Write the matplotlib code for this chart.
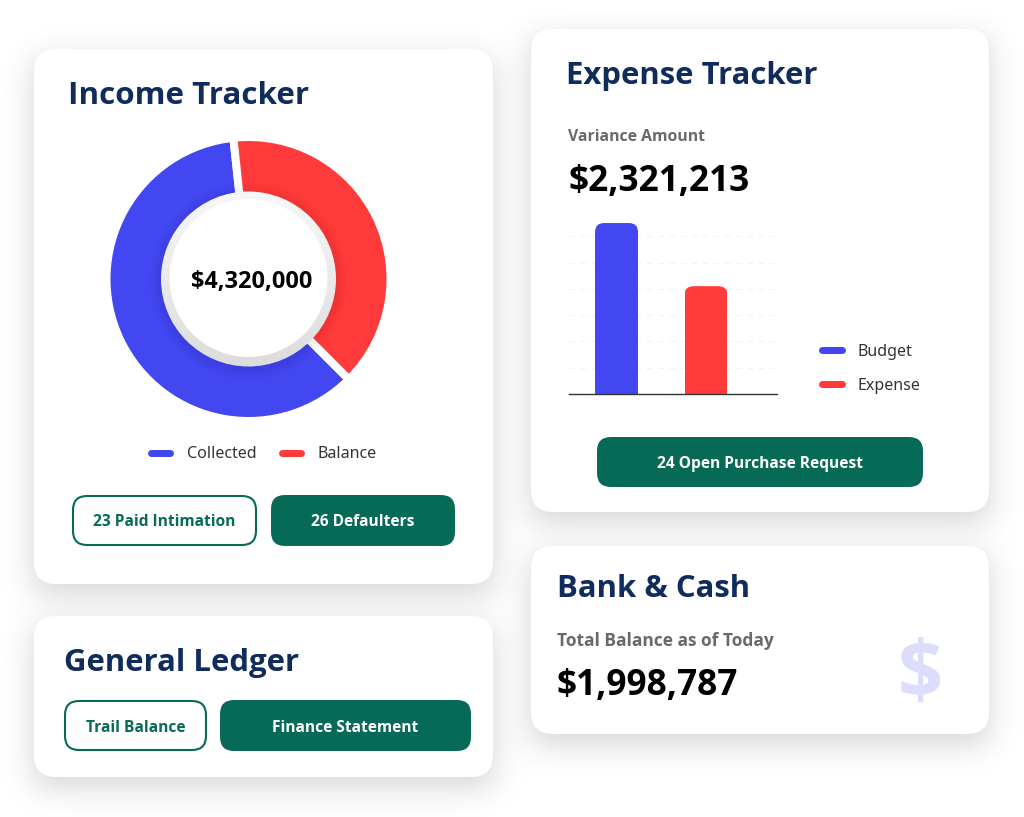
# -*- coding: utf-8 -*-
"""Finance dashboard cards: income donut, expense bars, ledger and bank cards"""

import matplotlib
matplotlib.use('Agg')
import matplotlib.pyplot as plt
from matplotlib.patches import FancyBboxPatch, Circle
import numpy as np

plt.rcParams['font.family'] = ['Noto Sans', 'DejaVu Sans']
BOLD_FONT = ['Open Sans', 'DejaVu Sans']

W, H = 1024, 817

BLUE = '#4347F1'
RED = '#FF3A3A'
GREEN = '#076A56'
NAVY = '#0F2C5C'
GREY = '#6B6868'
LABEL = '#333333'

income_labels = ['Collected', 'Balance']
income_shares = [60.8, 39.2]
income_total = '$4,320,000'

expense_labels = ['Budget', 'Expense']
expense_values = [65, 41]
expense_grid = [10, 20, 30, 40, 50, 60]
variance_amount = '$2,321,213'
bank_balance = '$1,998,787'

CARDS = [(34, 49, 493, 584), (531, 29, 989, 512), (34, 616, 493, 777), (531, 546, 989, 734)]


def px(size):
    return size * 72 / 100


def Y(y):
    return H - y


def draw_shadows(ax, sigma=16, offset=10, strength=0.17):
    half = int(3 * sigma)
    kernel = np.exp(-0.5 * (np.arange(-half, half + 1) / sigma) ** 2)
    kernel /= kernel.sum()
    alpha = np.zeros((H, W))
    for x0, y0, x1, y1 in CARDS:
        col = np.zeros(W)
        col[x0:x1] = 1
        row = np.zeros(H)
        row[y0 + offset:y1 + offset] = 1
        col = np.convolve(col, kernel, mode='same')
        row = np.convolve(row, kernel, mode='same')
        alpha += strength * np.outer(row, col)
    rgba = np.zeros((H, W, 4))
    rgba[..., 3] = np.clip(alpha, 0, 1)
    ax.imshow(rgba, extent=(0, W, 0, H), origin='upper', aspect='auto', zorder=0)


def draw_card(ax, x0, y0, x1, y1, radius=22):
    card = FancyBboxPatch((x0 + radius, Y(y1) + radius), x1 - x0 - 2 * radius, y1 - y0 - 2 * radius,
                          boxstyle=f'round,pad={radius},rounding_size={radius}',
                          facecolor='white', edgecolor='none', zorder=1)
    ax.add_patch(card)


def draw_button(ax, x0, y0, x1, y1, text, filled=True, radius=14):
    box = FancyBboxPatch((x0 + radius, Y(y1) + radius), x1 - x0 - 2 * radius, y1 - y0 - 2 * radius,
                         boxstyle=f'round,pad={radius},rounding_size={radius}',
                         facecolor=GREEN if filled else 'white',
                         edgecolor='none' if filled else GREEN,
                         linewidth=1.5, zorder=2)
    ax.add_patch(box)
    ax.text((x0 + x1) / 2, Y((y0 + y1) / 2), text, ha='center', va='center_baseline', zorder=3,
            fontsize=px(15.5), weight='bold', family=BOLD_FONT,
            color='white' if filled else GREEN)


def draw_text(ax, x, y, text, size, color='black', weight='bold'):
    ax.text(x, Y(y), text, ha='left', va='baseline', fontsize=px(size), color=color,
            weight=weight, family=BOLD_FONT, zorder=3)


def draw_label(ax, x, y, text):
    ax.text(x, Y(y), text, fontsize=px(16), color=LABEL, va='baseline', zorder=3)


def draw_pill(ax, x0, x1, y, color):
    ax.plot([x0 + 3, x1 - 3], [Y(y), Y(y)], color=color, lw=px(7), solid_capstyle='round', zorder=3)


fig = plt.figure(figsize=(W / 100, H / 100), dpi=100, facecolor='white')
bg = fig.add_axes([0, 0, 1, 1], zorder=0)
draw_shadows(bg)
for c in CARDS:
    draw_card(bg, *c)

# Income Tracker
draw_text(bg, 68, 104, 'Income Tracker', 31.4, NAVY)
draw_pill(bg, 148, 173, 453, BLUE)
draw_label(bg, 186.5, 458, income_labels[0])
draw_pill(bg, 279, 304, 453, RED)
draw_label(bg, 317.5, 458, income_labels[1])
draw_button(bg, 73, 496, 256, 545, '23 Paid Intimation', filled=False)
draw_button(bg, 271, 495, 455, 546, '26 Defaulters')

# donut in its own square axes, radius 1 = 142 px before the white edge
half = 160
cx = 248.5
donut = fig.add_axes([(cx - half) / W, (Y(279) - half) / H, 2 * half / W, 2 * half / H], zorder=1)
donut.pie(income_shares, colors=[BLUE, RED], startangle=-45, counterclock=False, radius=1,
          wedgeprops=dict(width=0.5, edgecolor='white', linewidth=px(8)))
for i in range(8, 0, -1):
    donut.add_patch(Circle((0, -2 / 142), (87 + i * 1.5) / 142, facecolor='black',
                           edgecolor='none', alpha=0.008, zorder=3))
# ring around the centre: light at the top, darker at the bottom
ring = Circle((0, 0), 87.5 / 142, transform=donut.transData)
shade = np.linspace(0.97, 0.86, 64).reshape(-1, 1)
ring_img = donut.imshow(shade, cmap='gray', vmin=0, vmax=1, origin='upper', aspect='auto', zorder=4,
                        extent=(-92 / 142, 92 / 142, -92 / 142, 92 / 142))
ring_img.set_clip_path(ring)
donut.add_patch(Circle((0, 1 / 142), 79 / 142, facecolor='white', edgecolor='none', zorder=5))
donut.text(3.5 / 142, 0, income_total, ha='center', va='center_baseline', fontsize=px(23.5),
           weight='bold', family=BOLD_FONT, color='black', zorder=6)
donut.set_xlim(-half / 142, half / 142)
donut.set_ylim(-half / 142, half / 142)
donut.set_aspect('equal')
donut.axis('off')

# Expense Tracker
draw_text(bg, 565.5, 84, 'Expense Tracker', 31.2, NAVY)
draw_text(bg, 568, 141, 'Variance Amount', 15.8, GREY)
draw_text(bg, 569, 191, variance_amount, 35.2)
draw_pill(bg, 819, 845, 350, BLUE)
draw_label(bg, 857.5, 356, expense_labels[0])
draw_pill(bg, 819, 845, 384, RED)
draw_label(bg, 857.5, 390, expense_labels[1])
draw_button(bg, 597, 437, 923, 487, '24 Open Purchase Request')

# General Ledger
draw_text(bg, 64, 671, 'General Ledger', 31.2, NAVY)
draw_button(bg, 65, 701, 206, 750, 'Trail Balance', filled=False)
draw_button(bg, 220, 700, 471, 751, 'Finance Statement')

# Bank & Cash
draw_text(bg, 557, 597, 'Bank & Cash', 31.2, NAVY)
draw_text(bg, 557, 646, 'Total Balance as of Today', 17.4, GREY)
draw_text(bg, 557, 695, bank_balance, 35.2)
bg.text(920, Y(677), '$', ha='center', va='center', fontsize=px(79), weight='bold',
        family=BOLD_FONT, color='#DCDCFB', zorder=3)

bg.set_xlim(0, W)
bg.set_ylim(0, H)
bg.axis('off')

# bars, x unit = 89.5 px, y unit = 2.63 px
bar_ax = fig.add_axes([569 / W, Y(394) / H, 208 / W, 175 / H], zorder=1)
bar_ax.patch.set_visible(False)
bar_ax.set_xlim(-47.5 / 89.5, 160.5 / 89.5)
bar_ax.set_ylim(0, 175 / 2.63)
for v in expense_grid:
    bar_ax.axhline(v, color='#F3F3F3', lw=0.8, ls=(0, (5, 5)), zorder=1)
bars = bar_ax.bar(range(len(expense_values)), expense_values, width=0.48,
                  color=[BLUE, RED], zorder=2)
corner = 9 / 89.5
for b in bars:
    # round only the top corners: the lower ones fall below the baseline
    clip = FancyBboxPatch((b.get_x() + corner, -20), b.get_width() - 2 * corner,
                          b.get_height() + 20 - corner * (89.5 / 2.63),
                          boxstyle=f'round,pad={corner},rounding_size={corner}',
                          mutation_aspect=89.5 / 2.63, transform=bar_ax.transData)
    b.set_clip_path(clip)
bar_ax.set_xticks([])
bar_ax.set_yticks([])
for side in ['top', 'left', 'right']:
    bar_ax.spines[side].set_visible(False)
bar_ax.spines['bottom'].set_color('#333333')
bar_ax.spines['bottom'].set_linewidth(1)
bar_ax.spines['bottom'].set_zorder(3)

fig.savefig('out.png', dpi=100, facecolor='white')
plt.close(fig)
